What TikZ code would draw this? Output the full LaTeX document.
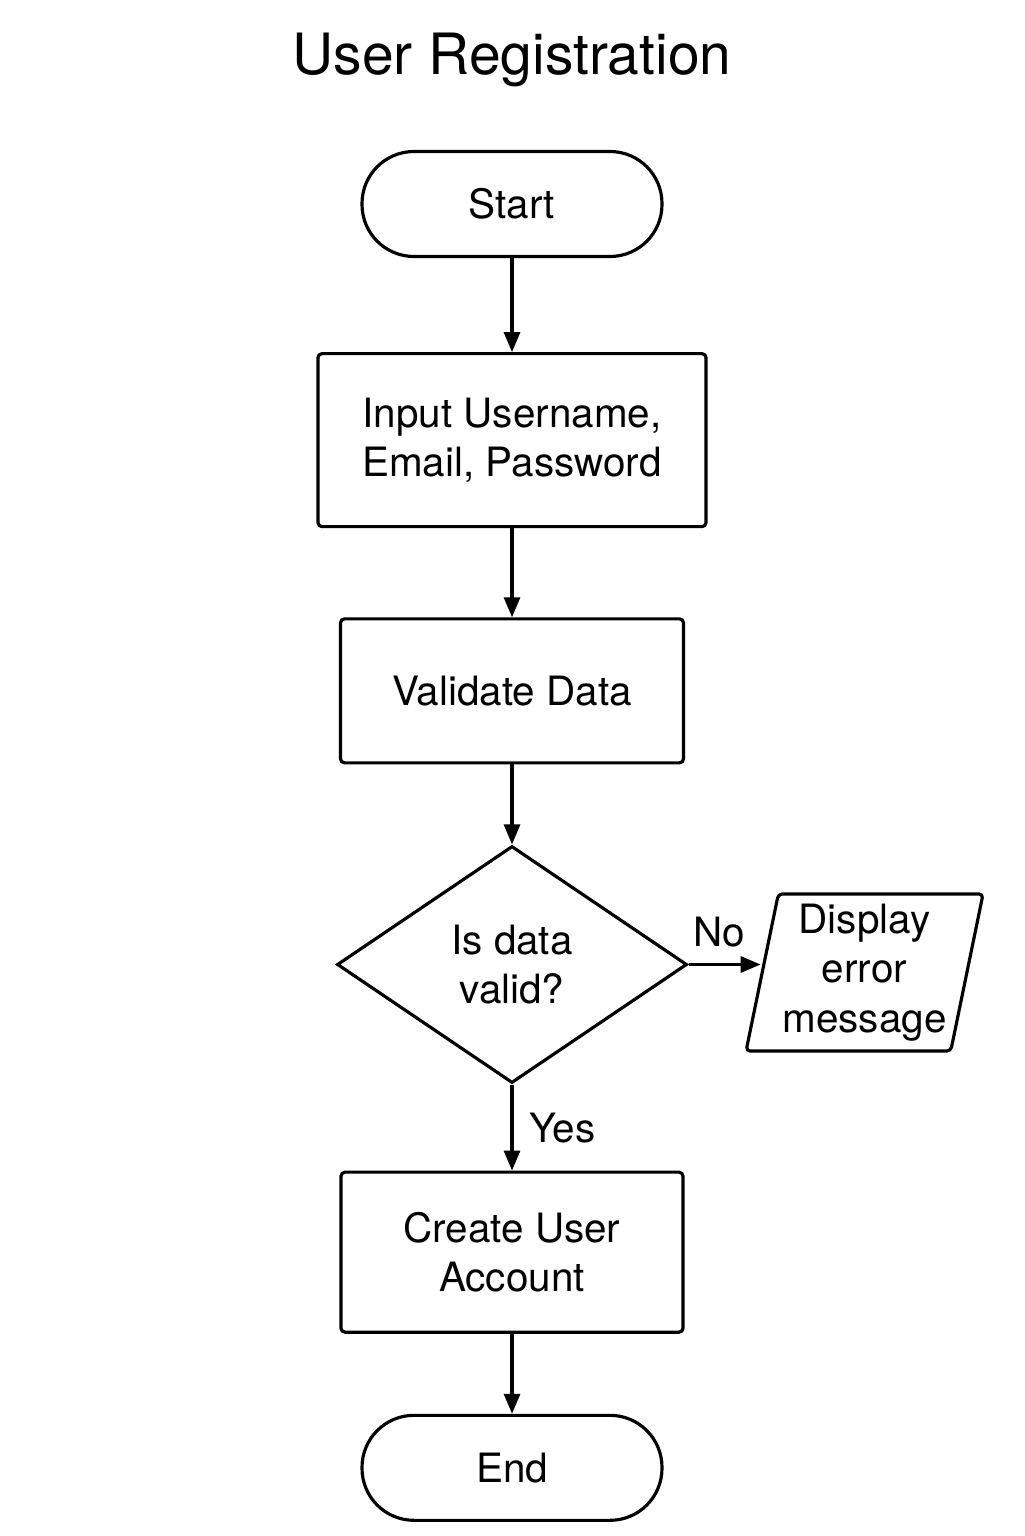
\documentclass[tikz,border=0pt]{standalone}
\usepackage{fontspec}
\setmainfont{TeX Gyre Heros}
\usetikzlibrary{positioning,shapes.geometric,arrows.meta}

\begin{document}
\begin{tikzpicture}[auto, node distance=0.9cm, line width=0.9pt]
		\tikzstyle{every node}=[font=\fontsize{11.5}{14}\selectfont, inner sep=0pt, align=center]
		\tikzstyle{every edge}=[draw, -{Triangle[length=0.2cm,width=0.16cm]}]
		\tikzstyle{terminal}=[draw, rectangle, rounded corners=0.52cm, minimum width=3cm, minimum height=1.05cm]
		\tikzstyle{process}=[draw, rectangle, rounded corners=0.04cm]
		\tikzstyle{decision}=[draw, diamond, shape aspect=1.48, minimum width=3.5cm, minimum height=2.37cm]
		\tikzstyle{io}=[draw, trapezium, trapezium left angle=76.7, trapezium right angle=103.3, trapezium stretches body, minimum width=2.37cm, minimum height=1.57cm, text width=1.65cm, rounded corners=0.04cm]
		\tikzstyle{lbl}=[inner sep=0.16cm]

		\useasboundingbox (0,0) rectangle (10.24,-15.36);

		\node[font=\fontsize{16.2}{19}\selectfont] (title) at (5.12,-0.6) {User Registration};

		\node[terminal]   (start)    at (5.12,-2.04)   {Start};
		\node[process, minimum width=3.88cm, minimum height=1.73cm] (input) [below=0.94cm of start] {Input Username,\\Email, Password};
		\node[process, minimum width=3.43cm, minimum height=1.44cm] (validate) [below=0.89cm of input] {Validate Data};
		\node[decision]   (valid)    [below=0.8cm of validate] {Is data\\valid?};
		\node[io]         (error)    [right=0.72cm of valid, yshift=-0.08cm] {Display\\error\\message};
		\node[process, minimum width=3.42cm, minimum height=1.6cm] (create) [below=0.86cm of valid] {Create User\\Account};
		\node[terminal]   (end)      [below=0.8cm of create]   {End};
		\coordinate       (noin)     at (valid.east -| error.west);

		\path(start) edge (input);
		\path(input) edge (validate);
		\path(validate) edge (valid);
		\path(valid.east) edge node[lbl, pos=0.42] {No} (noin);
		\path(valid) edge node[lbl] {Yes} (create);
		\path(create) edge (end);

\end{tikzpicture}
\end{document}
